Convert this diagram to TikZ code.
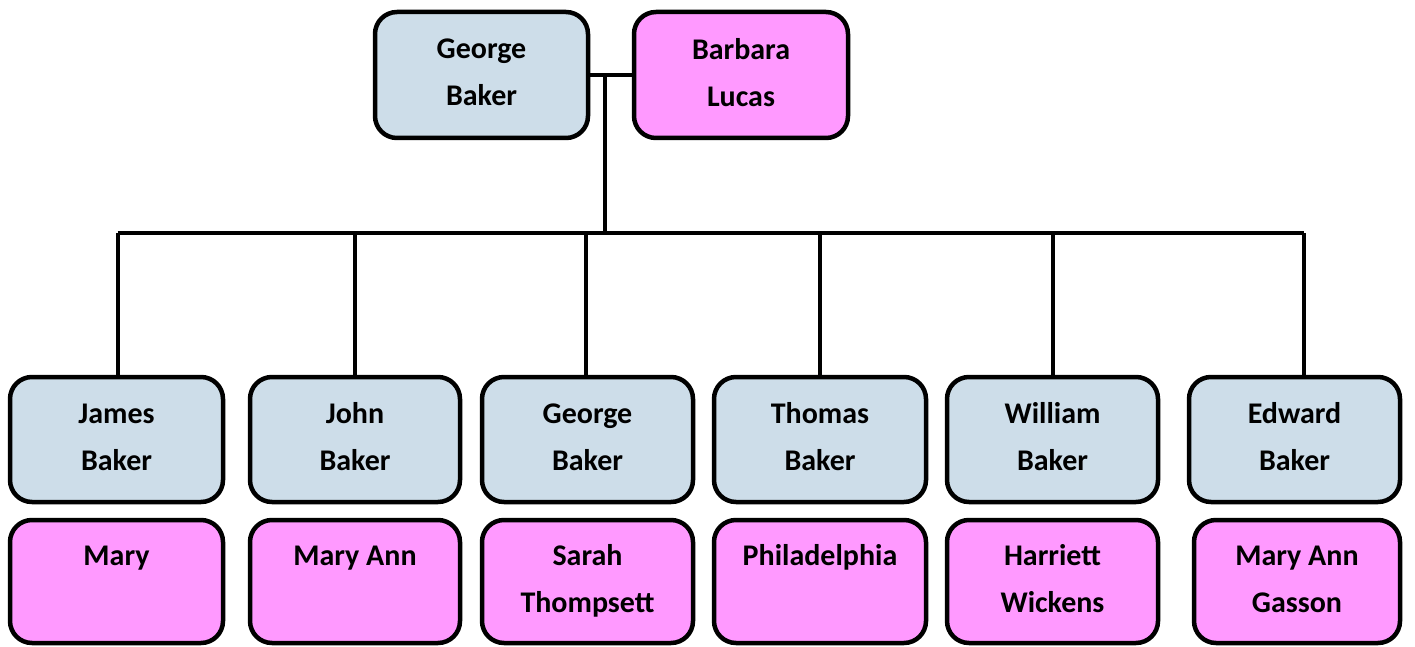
\documentclass[tikz,border=0pt]{standalone}
\usepackage{fontspec}
\setmainfont{Carlito}
\definecolor{bluebox}{RGB}{205,221,233}
\definecolor{pinkbox}{RGB}{255,153,255}
\tikzset{
  person/.style={draw=black, line width=4.5pt, rounded corners=22pt, align=center,
    font=\bfseries\fontsize{30}{47}\selectfont, inner sep=0pt},
  man/.style={person, fill=bluebox},
  wife/.style={person, fill=pinkbox},
  link/.style={line width=4pt}
}
\newcommand{\pbox}[8]{% name, style, x1, y1, x2, y2, line1, line2
  \node[#2, minimum width=#5-#3 pt, minimum height=#6-#4 pt] (#1) at ({(#3+#5)/2},{(#4+#6)/2}) {#7\\#8\vphantom{gpA}};}
\begin{document}
\begin{tikzpicture}[x=1pt,y=-1pt]
\useasboundingbox (0,0) rectangle (1415,647);
\fill[white] (0,0) rectangle (1415,647);
% parents
\pbox{gb}{man}{375}{12}{588}{138}{George}{Baker}
\pbox{bl}{wife}{634}{12}{848}{138}{Barbara}{Lucas}
% children
\pbox{c1}{man}{10}{377}{223}{502}{James}{Baker}
\pbox{c2}{man}{250}{377}{460}{502}{John}{Baker}
\pbox{c3}{man}{482}{377}{693}{502}{George}{Baker}
\pbox{c4}{man}{714}{377}{926}{502}{Thomas}{Baker}
\pbox{c5}{man}{947}{377}{1158}{502}{William}{Baker}
\pbox{c6}{man}{1189}{377}{1400}{502}{Edward}{Baker}
% spouses
\pbox{w1}{wife}{10}{520}{223}{643}{Mary}{}
\pbox{w2}{wife}{250}{520}{460}{643}{Mary Ann}{}
\pbox{w3}{wife}{482}{520}{693}{643}{Sarah}{Thompsett}
\pbox{w4}{wife}{714}{520}{926}{643}{Philadelphia}{}
\pbox{w5}{wife}{947}{520}{1158}{643}{Harriett}{Wickens}
\pbox{w6}{wife}{1194}{520}{1400}{643}{Mary Ann}{Gasson}
% connectors
\draw[link] (gb.east) -- (bl.west);
\coordinate (m) at (605,75);
\coordinate (bar) at (605,233);
\draw[link] (m) -- (bar);
\draw[link] ([xshift=1pt]c1.north |- bar) -- ([xshift=9pt]c6.north |- bar);
\draw[link] ([xshift=1pt]c1.north |- bar) -- ([xshift=1pt]c1.north);
\draw[link] (c2.north |- bar) -- (c2.north);
\draw[link] ([xshift=-2pt]c3.north |- bar) -- ([xshift=-2pt]c3.north);
\draw[link] (c4.north |- bar) -- (c4.north);
\draw[link] (c5.north |- bar) -- (c5.north);
\draw[link] ([xshift=9pt]c6.north |- bar) -- ([xshift=9pt]c6.north);
\end{tikzpicture}
\end{document}
